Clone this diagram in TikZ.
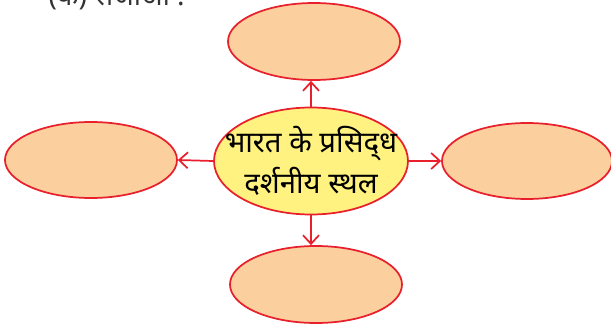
\documentclass[tikz,border=0pt]{standalone}
\usepackage{fontspec}
\newfontfamily\deva[Script=Devanagari]{Noto Sans}
\usetikzlibrary{shapes.geometric,arrows.meta}
\definecolor{lred}{RGB}{232,32,44}
\definecolor{peach}{RGB}{252,207,158}
\definecolor{lyellow}{RGB}{255,242,128}
\newlength{\px}\setlength{\px}{0.75pt}
\tikzset{
  outer/.style={ellipse,draw=lred,line width=1.3pt,fill=peach,inner sep=0pt},
  inner/.style={ellipse,draw=lred,line width=1.3pt,fill=lyellow,inner sep=0pt,
    minimum width=194\px,minimum height=107\px},
  ctext/.style={align=center,inner sep=0pt,font=\deva\fontsize{22}{31}\selectfont},
  conn/.style={draw=lred,line width=1.3pt,-{Straight Barb[length=6.5pt,width=12pt,line width=1.3pt]}}
}
\begin{document}
\begin{tikzpicture}[x=0.75pt,y=-0.75pt]
\useasboundingbox (0,0) rectangle (611,328);
\node[anchor=base west,font=\deva\fontsize{21}{25}\selectfont,text=black!80] (title) at (44,6) {(क) सजाओ :};
\node[outer,minimum width=172\px,minimum height=77\px] (top) at (314,41.5) {};
\node[outer,minimum width=172\px,minimum height=76\px] (left) at (91,160) {};
\node[outer,minimum width=170\px,minimum height=76\px] (right) at (527,161) {};
\node[outer,minimum width=172\px,minimum height=77\px] (bottom) at (316,284.5) {};
\node[inner] (c) at (311,161) {};
\node[ctext] (ct) at (c.center) {भारत के प्रसिद्‌ध\\दर्शनीय स्थल};
\draw[conn] (c.north) -- (c.north |- top.south);
\draw[conn] (c.west) -- (left.east);
\draw[conn] (c.east) -- (right.west);
\draw[conn] (c.south) -- (c.south |- bottom.north);
\end{tikzpicture}
\end{document}
